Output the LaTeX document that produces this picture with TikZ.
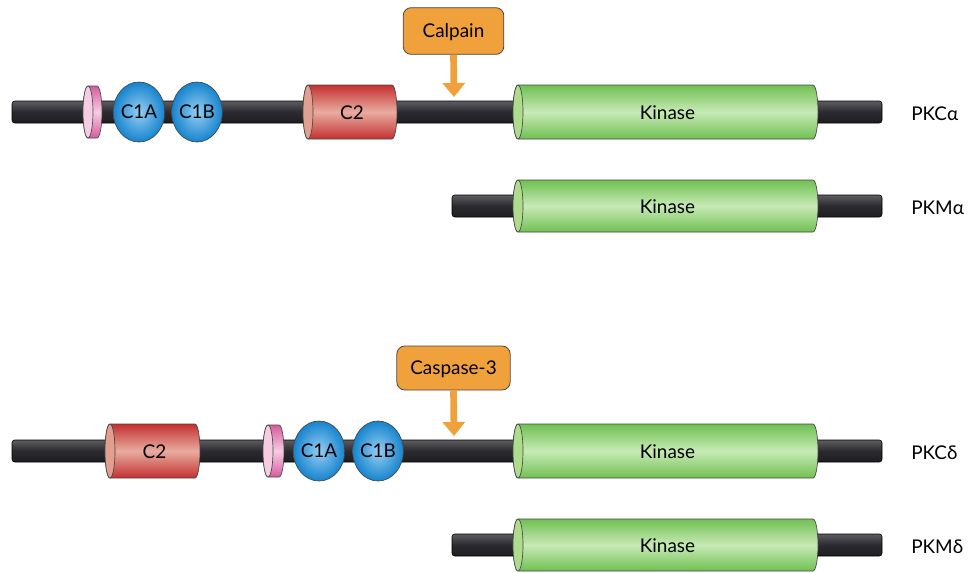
\documentclass[tikz,border=0pt]{standalone}
\usepackage{fontspec}
\setmainfont{Lato}
\usetikzlibrary{shapes.geometric,arrows.meta}
\definecolor{kdark}{RGB}{112,192,82}
\definecolor{klight}{RGB}{200,234,182}
\definecolor{kface}{RGB}{172,220,140}
\definecolor{rdark}{RGB}{196,48,48}
\definecolor{rlight}{RGB}{232,172,160}
\definecolor{rface}{RGB}{226,158,142}
\definecolor{pdark}{RGB}{214,92,160}
\definecolor{plight}{RGB}{246,204,226}
\definecolor{bdark}{RGB}{22,132,206}
\definecolor{blight}{RGB}{150,205,242}
\definecolor{orng}{RGB}{241,161,60}
\definecolor{bardark}{RGB}{30,30,34}
\definecolor{barlight}{RGB}{92,92,98}
\definecolor{edge}{RGB}{70,70,70}
% #1 name, #2 x1, #3 x2, #4 yc, #5 half height, #6 dark, #7 light, #8 face
\newcommand{\mycyl}[8]{%
  \shade[top color=#6, bottom color=#6, middle color=#7, draw=edge, line width=0.5pt]
    (#2,#4-#5) -- (#3,#4-#5) arc[start angle=-90,end angle=90,x radius=5,y radius=#5]
    -- (#2,#4+#5) arc[start angle=90,end angle=270,x radius=5,y radius=#5] -- cycle;
  \filldraw[fill=#8, draw=edge, line width=0.5pt] (#2,#4) ellipse[x radius=5, y radius=#5];
  \coordinate (#1) at ({(#2+#3)/2+2},#4+1);
}
% #1 x1, #2 x2, #3 yc
\newcommand{\protbar}[3]{%
  \shade[top color=barlight, bottom color=bardark, middle color=bardark!80!barlight, draw=black, line width=0.4pt, rounded corners=2pt]
    (#1,#3-11) rectangle (#2,#3+11);
}
\begin{document}
\begin{tikzpicture}[x=0.75pt,y=-0.75pt, font=\fontsize{14.2}{17}\selectfont,
  c1/.style={ellipse, draw=edge, line width=0.5pt, inner color=blight, outer color=bdark,
    minimum width=36pt, minimum height=45pt, inner sep=0pt},
  enzyme/.style={draw=edge, line width=0.6pt, fill=orng, rounded corners=6pt, inner sep=0pt},
  cutarrow/.style={draw=orng, line width=5pt, -{Triangle[width=16.5pt,length=10.5pt]}},
  lbl/.style={anchor=west, inner sep=0pt},
  txt/.style={inner sep=0pt}]
\useasboundingbox (0,0) rectangle (971,572);

% ---------- PKC alpha ----------
\protbar{12}{882}{112}
\mycyl{pa}{88}{97}{112}{26}{pdark}{plight}{plight}
\node[c1] (c1a1) at (139,112) {C1A};
\node[c1] (c1b1) at (197,112) {C1B};
\mycyl{c21}{308}{392}{112}{27}{rdark}{rlight}{rface}
\node[txt] (c21t) at (c21) {C2};
\mycyl{k1}{518}{813}{112}{27}{kdark}{klight}{kface}
\node[txt] (k1t) at (k1) {Kinase};
\node[lbl] (pkca) at (911,114) {PKCα};
\node[enzyme, minimum width=75.5pt, minimum height=35pt, text depth=0pt] (calpain) at (453.5,31) {Calpain};
\coordinate (cut1) at (454,97);
\draw[cutarrow] (calpain.south) -- (cut1);

% ---------- PKM alpha ----------
\protbar{452}{882}{206}
\mycyl{k2}{518}{813}{206}{26}{kdark}{klight}{kface}
\node[txt] (k2t) at (k2) {Kinase};
\node[lbl] (pkma) at (911,208) {PKMα};

% ---------- PKC delta ----------
\protbar{12}{882}{451}
\mycyl{c23}{110}{195}{451}{27}{rdark}{rlight}{rface}
\node[txt] (c23t) at (c23) {C2};
\mycyl{pd}{268}{279}{451}{26}{pdark}{plight}{plight}
\node[c1] (c1a3) at (319,451) {C1A};
\node[c1] (c1b3) at (378,451) {C1B};
\mycyl{k3}{518}{813}{451}{27}{kdark}{klight}{kface}
\node[txt] (k3t) at (k3) {Kinase};
\node[lbl] (pkcd) at (911,453) {PKCδ};
\node[enzyme, minimum width=85pt, minimum height=33pt, text depth=0pt] (caspase) at (453.5,368) {Caspase-3};
\coordinate (cut3) at (454,436);
\draw[cutarrow] (caspase.south) -- (cut3);

% ---------- PKM delta ----------
\protbar{452}{882}{545}
\mycyl{k4}{518}{813}{545}{26}{kdark}{klight}{kface}
\node[txt] (k4t) at (k4) {Kinase};
\node[lbl] (pkmd) at (911,547) {PKMδ};
\end{tikzpicture}
\end{document}
